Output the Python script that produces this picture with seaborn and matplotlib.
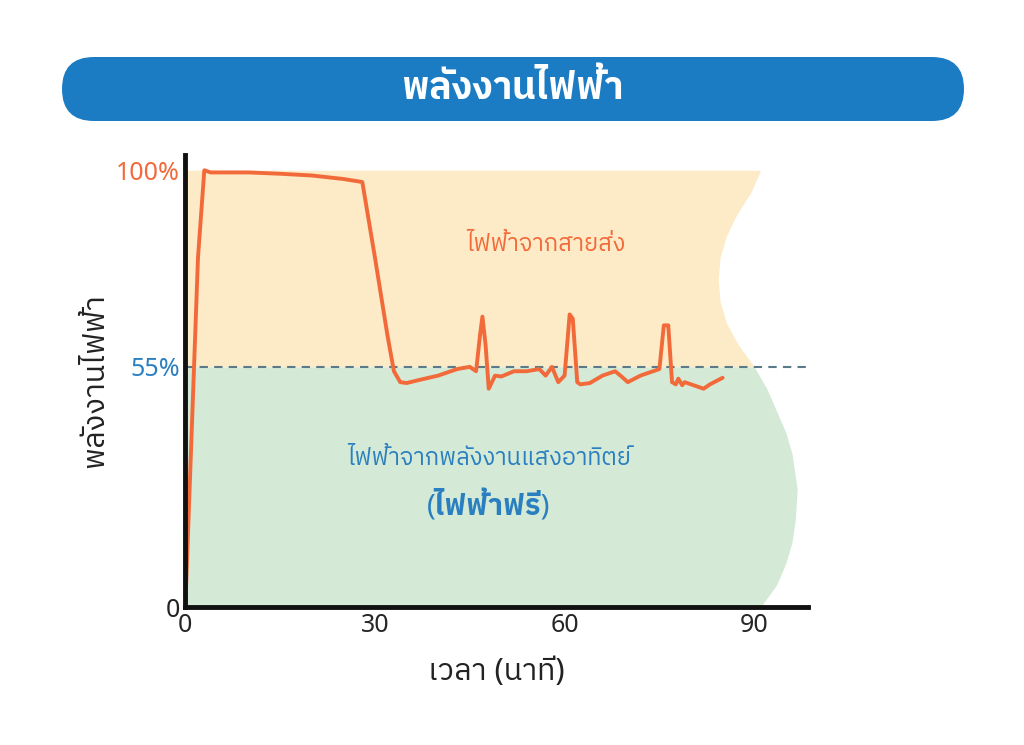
import numpy as np
import pandas as pd
import matplotlib.pyplot as plt
import seaborn as sns
from matplotlib import font_manager
from matplotlib.ft2font import FT2Font
from matplotlib.patches import FancyBboxPatch

# ---- data ----
minutes = [0, 1, 2, 3, 4, 6, 10, 15, 20, 25, 28, 30, 32, 33, 34, 35, 37, 40, 43, 45, 46, 46.6, 47, 47.5, 48,
           49, 50, 52, 54, 56, 57, 58, 59, 60, 60.8, 61.3, 62, 62.5, 64, 66, 68, 69, 70, 72, 74, 75,
           75.7, 76.4, 77, 77.6, 78, 78.6, 79, 80, 82, 83, 85]
power = [0, 40, 80, 100, 99.5, 99.5, 99.5, 99.2, 98.8, 98, 97.3, 80, 62, 54, 51.5, 51.3, 52, 53, 54.5, 55,
         54, 62, 66.5, 60, 50, 53, 52.8, 54, 54, 54.5, 53, 55, 51.5, 53, 67, 66, 51.5, 51, 51.3, 53, 54, 52.8,
         51.5, 53, 54, 54.5, 64.5, 64.5, 51.5, 51, 52.3, 50.8, 51.5, 51, 50, 51, 52.5]
x_ticks = [0, 30, 60, 90]
y_ticks = [0, 55, 100]
y_tick_labels = ["0", "55%", "100%"]
# right edges of the shaded background bands (decorative)
grid_edge_y = [55, 60, 65, 70, 75, 80, 85, 90, 95, 100]
grid_edge_x = [90, 87.5, 85.6, 84.6, 84.3, 84.6, 85.6, 87.3, 89.5, 91]
solar_edge_y = [0, 5, 10, 15, 20, 27, 35, 40, 45, 50, 55]
solar_edge_x = [91, 93.5, 95, 96, 96.5, 96.8, 96, 95, 93.5, 92, 90]

# find an installed font that has Thai glyphs
thai_fonts = []
for f in font_manager.fontManager.ttflist:
    try:
        if ord("ก") in FT2Font(f.fname).get_charmap() and f.name not in thai_fonts:
            thai_fonts.append(f.name)
    except Exception:
        pass
thai_fonts.sort(key=lambda n: (0 if "Sans" in n else 1, "Looped" in n))

sns.set_theme(style="white")
plt.rcParams['font.family'] = ['Noto Sans'] + thai_fonts[:2] + ['DejaVu Sans']

fig = plt.figure(figsize=(10.24, 7.45), dpi=100)
ax = fig.add_axes([0.181, 0.185, 0.608, 0.607])

orange = "#f26a3a"
blue = "#2a7fc0"

ax.fill_betweenx(grid_edge_y, 0, grid_edge_x, color="#fcebc6", lw=0)
ax.fill_betweenx(solar_edge_y, 0, solar_edge_x, color="#d4ead6", lw=0)
ax.axhline(55, color="#5a7a8a", ls=(0, (4, 3)), lw=1.5)

df = pd.DataFrame({"minute": minutes, "power": power})
sns.lineplot(data=df, x="minute", y="power", ax=ax, color=orange, lw=2.8)

ax.set_xlim(0, 98.5)
ax.set_ylim(0, 103.5)
ax.set_xticks(x_ticks)
ax.set_yticks(y_ticks)
ax.set_yticklabels(y_tick_labels)
for lbl, c in zip(ax.get_yticklabels(), ["#222222", blue, orange]):
    lbl.set_color(c)
ax.tick_params(labelsize=18, length=0, pad=4)
for s in ["top", "right"]:
    ax.spines[s].set_visible(False)
for s in ["left", "bottom"]:
    ax.spines[s].set_color("#111111")
    ax.spines[s].set_linewidth(3.5)
ax.set_xlabel("เวลา (นาที)", fontsize=22, labelpad=14, color="#222222")
ax.set_ylabel("พลังงานไฟฟ้า", fontsize=22, labelpad=4, color="#222222")

ax.text(57, 83, "ไฟฟ้าจากสายส่ง", color=orange, fontsize=17, ha="center", va="center")
ax.text(48, 34, "ไฟฟ้าจากพลังงานแสงอาทิตย์", color=blue, fontsize=17, ha="center", va="center")
ax.text(48, 23, "(ไฟฟ้าฟรี)", color=blue, fontsize=21, fontweight="bold", ha="center", va="center")

# title banner on a pixel-coordinate overlay
bax = fig.add_axes([0, 0, 1, 1], zorder=-1)
bax.set_xlim(0, 1024)
bax.set_ylim(745, 0)
bax.axis("off")
bax.add_patch(FancyBboxPatch((62, 57), 902, 64, boxstyle="round,pad=0,rounding_size=32",
                             facecolor="#1b7cc4", edgecolor="none"))
bax.text(512, 89, "พลังงานไฟฟ้า", color="white", fontsize=27, fontweight="bold",
         ha="center", va="center")

fig.savefig("out.png", dpi=100)
